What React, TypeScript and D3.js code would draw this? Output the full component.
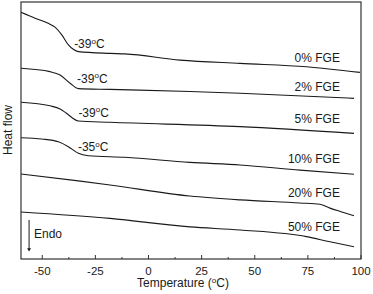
import React from "react";
import * as d3 from "d3";

type Pt = [number, number];

// Temperature (°C), heat flow (arbitrary units)
const curve0: Pt[] = [
  [-60, 96.0], [-53.4, 93.7], [-47.2, 91.7], [-44.0, 90.2], [-40.8, 87.2], [-37.7, 83.3],
  [-35.4, 81.6], [-33.0, 80.7], [-18.1, 80.0], [-11.1, 79.8], [14.8, 77.4], [43.1, 76.1],
  [74.4, 74.8], [99.5, 72.6],
];
const curve2: Pt[] = [
  [-60, 74.2], [-46.4, 72.9], [-41.6, 71.6], [-36.9, 68.4], [-33.0, 66.3], [-18.1, 66.0],
  [19.5, 65.2], [43.1, 64.5], [96.7, 62.5],
];
const curve5: Pt[] = [
  [-60, 61.0], [-46.4, 59.6], [-41.6, 58.4], [-38.6, 56.7], [-33.0, 53.7], [-18.1, 53.2],
  [43.1, 51.5], [96.7, 48.9],
];
const curve10: Pt[] = [
  [-60, 47.2], [-50.2, 46.7], [-42.4, 45.6], [-37.7, 43.7], [-33.0, 41.1], [-28.3, 40.2],
  [-11.1, 39.6], [19.5, 37.6], [43.1, 36.6], [71.3, 34.6], [96.7, 33.0],
];
const curve20: Pt[] = [
  [-60, 33.1], [-33, 30.4], [-18.1, 28.8], [19.5, 24.5], [43.1, 23.0], [71.3, 21.8],
  [80.7, 21.3], [85.4, 19.8], [91, 18.3], [96.7, 16.8],
];
const curve50: Pt[] = [
  [-60, 18.3], [-18.1, 15.8], [19.5, 12.5], [43.1, 11.3], [74.4, 8.7], [85.4, 6.7], [96.7, 4.8],
];

const seriesNames = ["0% FGE", "2% FGE", "5% FGE", "10% FGE", "20% FGE", "50% FGE"];
const seriesData = [curve0, curve2, curve5, curve10, curve20, curve50];
// label anchor (temperature of right end, heat flow of baseline)
const labelTemp = 90.1;
const labelFlow = [76.7, 65.2, 52.9, 37.4, 24.1, 10.9];

// glass-transition annotations: [temperature, heat flow, value]
const tgNotes: [number, number, string][] = [
  [-35.0, 82.1, "-39"],
  [-33.6, 68.5, "-39"],
  [-33.0, 55.4, "-39"],
  [-33.2, 42.0, "-35"],
];

const xTicks = [-50, -25, 0, 25, 50, 75, 100];
const xMinorTicks = [-37.5, -12.5, 12.5, 37.5, 62.5, 87.5];
const xDomain: [number, number] = [-60, 100];
const yDomain: [number, number] = [0, 100];

const W = 373;
const H = 294;
const m = { left: 21, right: 12, top: 2, bottom: 35 };

export default function App() {
  const x = d3.scaleLinear().domain(xDomain).range([m.left, W - m.right]);
  const y = d3.scaleLinear().domain(yDomain).range([H - m.bottom, m.top]);
  const line = d3
    .line<Pt>()
    .x((d) => x(d[0]))
    .y((d) => y(d[1]))
    .curve(d3.curveMonotoneX);
  const font = "'Liberation Sans', Arial, sans-serif";
  const color = "#1a1a1a";
  const plotBottom = H - m.bottom;

  return (
    <svg
      width={W}
      height={H}
      style={{ position: "absolute", left: 0, top: 0, background: "#fff" }}
      fontFamily={font}
    >
      <rect x={0} y={0} width={W} height={H} fill="#fff" />
      {seriesData.map((d, i) => (
        <path key={i} d={line(d) || ""} fill="none" stroke={color} strokeWidth={1.1} />
      ))}
      {seriesNames.map((n, i) => (
        <text key={n} x={x(labelTemp)} y={y(labelFlow[i])} fontSize={12} textAnchor="end" fill={color}>
          {n}
        </text>
      ))}
      {tgNotes.map((t, i) => (
        <text key={i} x={x(t[0])} y={y(t[1])} fontSize={12} fill={color}>
          {t[2]}
          <tspan fontSize={8} dy={-4.5}>o</tspan>
          <tspan dy={4.5}>C</tspan>
        </text>
      ))}
      {/* frame */}
      <rect
        x={m.left}
        y={m.top}
        width={W - m.left - m.right}
        height={plotBottom - m.top}
        fill="none"
        stroke="#333"
        strokeWidth={1.2}
      />
      {xTicks.map((t) => (
        <g key={t}>
          <line x1={x(t)} x2={x(t)} y1={plotBottom} y2={plotBottom - 4} stroke="#333" strokeWidth={1} />
          <text x={x(t)} y={plotBottom + 16} fontSize={11.5} textAnchor="middle" fill={color}>
            {t}
          </text>
        </g>
      ))}
      {xMinorTicks.map((t) => (
        <line key={t} x1={x(t)} x2={x(t)} y1={plotBottom} y2={plotBottom - 2} stroke="#333" strokeWidth={1} />
      ))}
      <text x={183} y={287} fontSize={12} textAnchor="middle" fill={color}>
        Temperature (
        <tspan fontSize={8} dy={-4.5}>o</tspan>
        <tspan dy={4.5}>C)</tspan>
      </text>
      <text transform="translate(12,130) rotate(-90)" fontSize={12} textAnchor="middle" fill={color}>
        Heat flow
      </text>
      {/* Endo arrow */}
      <line x1={x(-56.2)} x2={x(-56.2)} y1={y(15.2)} y2={y(3.6)} stroke={color} strokeWidth={1} />
      <path
        d={`M${x(-56.2) - 2},${y(4.2)} L${x(-56.2) + 2},${y(4.2)} L${x(-56.2)},${y(2.9)} Z`}
        fill={color}
      />
      <text x={x(-53.9)} y={y(8.2)} fontSize={12} fill={color}>
        Endo
      </text>
    </svg>
  );
}
